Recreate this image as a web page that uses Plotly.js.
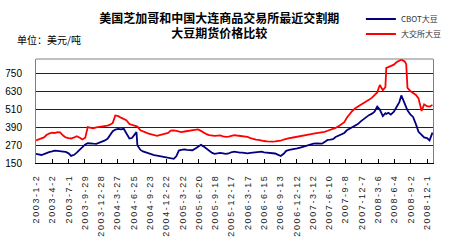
<!DOCTYPE html>
<html>
<head>
<meta charset="utf-8">
<script src="https://cdn.plot.ly/plotly-3.0.1.min.js"></script>
<style>
  html, body { margin: 0; padding: 0; background: #fff; }
  #chart { width: 450px; height: 250px; }
  .xtick text { letter-spacing: 1.6px; }
</style>
</head>
<body>
<div id="chart"></div>
<script>
// ---- data (USD/ton) ----
const dates = [
  '2003-01-02','2003-01-15','2003-02-01','2003-02-15','2003-03-01','2003-03-15','2003-04-01','2003-04-15',
  '2003-05-01','2003-05-15','2003-06-01','2003-06-15','2003-07-01','2003-07-15','2003-08-01','2003-08-15',
  '2003-09-01','2003-09-15','2003-10-01','2003-10-15','2003-11-01','2003-11-15','2003-12-01','2003-12-15',
  '2004-01-01','2004-01-15','2004-02-01','2004-02-15','2004-03-01','2004-03-15','2004-04-01','2004-04-15',
  '2004-05-01','2004-05-15','2004-06-01','2004-06-15','2004-07-01','2004-07-10','2004-07-15','2004-08-01',
  '2004-08-15','2004-09-01','2004-09-15','2004-10-01','2004-10-15','2004-11-01','2004-11-15','2004-12-01','2004-12-15',
  '2005-01-01','2005-01-15','2005-02-01','2005-02-15','2005-03-01','2005-03-15','2005-04-01','2005-04-15',
  '2005-05-01','2005-05-15','2005-06-01','2005-06-15','2005-07-01','2005-07-15','2005-08-01','2005-08-15',
  '2005-09-01','2005-09-15','2005-10-01','2005-10-15','2005-11-01','2005-11-15','2005-12-01','2005-12-15',
  '2006-01-01','2006-01-15','2006-02-01','2006-02-15','2006-03-01','2006-03-15','2006-04-01','2006-04-15',
  '2006-05-01','2006-05-15','2006-06-01','2006-06-15','2006-07-01','2006-07-15','2006-08-01','2006-08-15',
  '2006-09-01','2006-09-15','2006-10-01','2006-10-15','2006-11-01','2006-11-15','2006-12-01','2006-12-15',
  '2007-01-01','2007-01-15','2007-02-01','2007-02-15','2007-03-01','2007-03-15','2007-04-01','2007-04-15',
  '2007-05-01','2007-05-15','2007-06-01','2007-06-15','2007-07-01','2007-07-15','2007-08-01','2007-08-15',
  '2007-09-01','2007-09-15','2007-10-01','2007-10-15','2007-11-01','2007-11-15','2007-12-01','2007-12-15',
  '2008-01-01','2008-01-15','2008-02-01','2008-02-15','2008-03-01','2008-03-15','2008-04-01','2008-04-15',
  '2008-04-20','2008-05-01','2008-05-15','2008-06-01','2008-06-15','2008-07-01','2008-07-12','2008-07-15',
  '2008-08-01','2008-08-08','2008-08-15','2008-09-01','2008-09-15','2008-10-01','2008-10-15','2008-11-01',
  '2008-11-15','2008-12-01','2008-12-15','2008-12-31'
];

const cbot = [
  211,208,204,210,218,223,228,233, 232,228,227,225,215,198,205,220, 240,258,275,283,284,280,279,285,
  291,300,313,340,364,375,380,376, 380,350,315,318,340,358,270,238, 228,220,212,205,203,200,197,195,192,
  189,182,178,195,234,238,241,238, 235,236,248,260,272,262,245,230, 218,211,214,218,215,212,214,222,
  226,222,220,220,216,215,218,220, 224,226,226,222,220,218,216,214, 205,197,212,232,238,240,242,248,
  254,260,266,271,276,281,282,279, 280,292,305,307,310,325,335,340, 352,370,382,392,400,412,430,445,
  462,472,482,495,530,510,465,485, 480,488,476,495,525,560,605,595, 545,525,505,475,460,410,360,340,
  322,318,302,355
];

const dce = [
  302,308,316,322,338,348,354,352, 358,356,335,322,318,315,322,330, 320,308,320,392,386,384,390,392,
  395,398,402,408,420,470,465,455, 445,438,412,408,404,400,395,370, 362,356,348,342,338,333,338,342,348,
  352,368,370,366,360,358,362,364, 366,368,372,376,366,355,344,338, 333,332,334,336,330,326,328,334,
  338,335,333,331,328,326,318,311, 308,306,304,298,295,293,294,295, 297,300,308,314,318,320,323,327,
  330,333,336,338,344,348,350,352, 355,360,367,372,378,386,398,412, 425,455,482,500,518,532,542,552,
  562,575,590,605,625,675,640,660, 790,795,802,812,828,842,846,844, 832,815,656,633,622,608,585,500,
  545,532,530,540
];

const tickDates = [
  '2003-01-02','2003-04-02','2003-07-01','2003-09-29','2003-12-28','2004-03-27','2004-06-25',
  '2004-09-23','2004-12-22','2005-03-22','2005-06-20','2005-09-18','2005-12-17','2006-03-17',
  '2006-06-15','2006-09-13','2006-12-12','2007-03-12','2007-06-10','2007-09-08','2007-12-07',
  '2008-03-06','2008-06-04','2008-09-02','2008-12-01'
];
const tickLabels = [
  '2003-1-2','2003-4-2','2003-7-1','2003-9-29','2003-12-28','2004-3-27','2004-6-25',
  '2004-9-23','2004-12-22','2005-3-22','2005-6-20','2005-9-18','2005-12-17','2006-3-17',
  '2006-6-15','2006-9-13','2006-12-12','2007-3-12','2007-6-10','2007-9-8','2007-12-7',
  '2008-3-6','2008-6-4','2008-9-2','2008-12-1'
];
const yTicks = [150, 270, 390, 510, 630, 750];
const seriesNames = ['CBOT大豆', '大交所大豆'];

const traces = [
  { x: dates, y: cbot, name: seriesNames[0], type: 'scatter', mode: 'lines',
    line: { color: '#000080', width: 1.8 }, legend: 'legend' },
  { x: dates, y: dce, name: seriesNames[1], type: 'scatter', mode: 'lines',
    line: { color: '#FF0000', width: 1.8 }, legend: 'legend2' }
];

const legendFont = { family: 'Noto Sans CJK SC', size: 8, color: '#333' };

const layout = {
  width: 450, height: 250,
  margin: { l: 36, r: 17, t: 59, b: 87, pad: 0, autoexpand: false },
  paper_bgcolor: '#ffffff', plot_bgcolor: '#ffffff',
  font: { family: 'Liberation Sans, Arial, sans-serif', color: '#000' },
  title: {
    text: '美国芝加哥和中国大连商品交易所最近交割期<br>大豆期货价格比较',
    font: { family: 'Noto Sans CJK SC', size: 12, weight: 'bold', color: '#000' },
    x: 0.487, xanchor: 'center', xref: 'container',
    y: 0.91, yanchor: 'top', yref: 'container'
  },
  showlegend: true,
  legend: {
    xref: 'container', yref: 'container',
    x: 0.802, xanchor: 'left', y: 0.924, yanchor: 'middle',
    font: legendFont, bgcolor: 'rgba(0,0,0,0)', borderwidth: 0
  },
  legend2: {
    xref: 'container', yref: 'container',
    x: 0.802, xanchor: 'left', y: 0.864, yanchor: 'middle',
    font: legendFont, bgcolor: 'rgba(0,0,0,0)', borderwidth: 0
  },
  xaxis: {
    type: 'date',
    range: ['2003-01-02', '2009-01-03'],
    tickmode: 'array', tickvals: tickDates, ticktext: tickLabels,
    tickangle: -90,
    tickfont: { family: 'Liberation Sans, Arial, sans-serif', size: 9, color: '#222' },
    ticks: 'inside', ticklen: 4, tickcolor: '#000', tickwidth: 1,
    ticklabelstandoff: 7,
    showgrid: false, zeroline: false,
    showline: true, linecolor: '#000', linewidth: 1
  },
  yaxis: {
    range: [150, 850],
    tickmode: 'array', tickvals: yTicks,
    tickfont: { family: 'Liberation Sans, Arial, sans-serif', size: 10, color: '#000' },
    ticks: '', ticklabelstandoff: 11,
    showgrid: true, gridcolor: '#222', gridwidth: 1,
    zeroline: false,
    showline: true, linecolor: '#808080', linewidth: 1, mirror: true
  },
  shapes: [
    { type: 'line', xref: 'paper', yref: 'paper', x0: 0, x1: 1, y0: 1, y1: 1,
      line: { color: '#808080', width: 1 } }
  ],
  annotations: [
    { text: '单位：美元/吨', xref: 'paper', yref: 'paper', x: -0.052, y: 1.184,
      xanchor: 'left', yanchor: 'middle', showarrow: false,
      font: { family: 'Noto Sans CJK SC', size: 10, color: '#000' } }
  ],
  hovermode: false
};

Plotly.newPlot('chart', traces, layout, { displayModeBar: false, staticPlot: true });
</script>
</body>
</html>
